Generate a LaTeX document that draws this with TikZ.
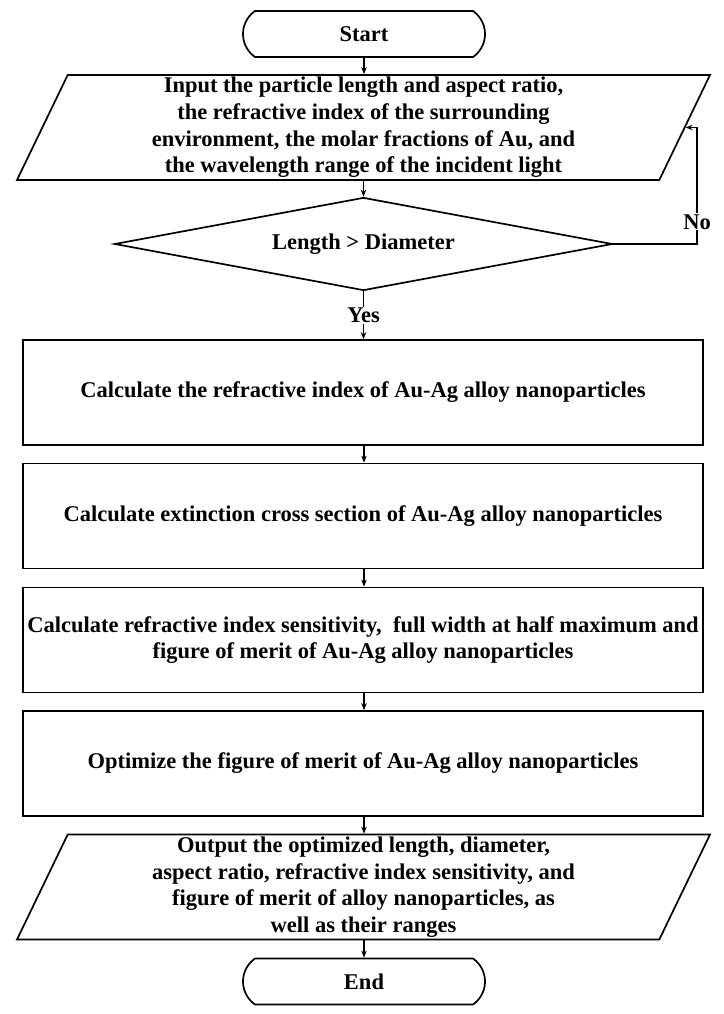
\documentclass[tikz,border=0pt]{standalone}
\usepackage{fontspec}
\setmainfont{Liberation Serif}
\usetikzlibrary{shapes.geometric,shapes.misc,arrows.meta}
\begin{document}
\begin{tikzpicture}[x=1pt,y=-1pt,
  every node/.style={font=\fontsize{22.5}{26.6}\selectfont\bfseries},
  shp/.style={draw, line width=1.7pt, inner sep=0pt, align=center},
  term/.style={shp, rounded rectangle, rounded rectangle arc length=110, minimum width=242pt, minimum height=46pt},
  io/.style={shp, trapezium, trapezium left angle=63.2, trapezium right angle=116.8, trapezium stretches body=true, minimum width=693pt, minimum height=105pt},
  proc/.style={shp, rectangle, minimum width=680pt, minimum height=105pt},
  decision/.style={shp, diamond, aspect=5.355, minimum width=498pt, minimum height=93pt},
  arr/.style={-{Stealth[length=7pt,width=5.5pt]}, line width=1.4pt},
  lbl/.style={fill=white, inner sep=1pt}
]
\useasboundingbox (0,0) rectangle (723,1014);

\node[term] (start) at (364,34) {Start};
\node[io] (inp) at (363.5,127.5) {Input the particle length and aspect ratio,\\the refractive index of the surrounding\\environment, the molar fractions of Au, and\\the wavelength range of the incident light};
\node[decision] (dec) at (363.5,244) {Length > Diameter};
\node[proc] (b1) at (363,392.5) {Calculate the refractive index of Au-Ag alloy nanoparticles};
\node[proc] (b2) at (363,516) {Calculate extinction cross section of Au-Ag alloy nanoparticles};
\node[proc] (b3) at (363,640) {Calculate refractive index sensitivity, \ full width at half maximum and\\figure of merit of Au-Ag alloy nanoparticles};
\node[proc] (b4) at (363,763.5) {Optimize the figure of merit of Au-Ag alloy nanoparticles};
\node[io] (out) at (363.5,887) {Output the optimized length, diameter,\\aspect ratio, refractive index sensitivity, and\\figure of merit of alloy nanoparticles, as\\well as their ranges};
\node[term] (end) at (364,981.5) {End};

\coordinate (noc) at (697,244);

\draw[arr] (start.south) -- (start.south |- inp.north);
\draw[arr] (inp.south -| dec.north) -- (dec.north);
\draw[arr] (dec.south) -- node[lbl]{Yes} (b1.north -| dec.south);
\draw[arr] (dec.east) -- (noc) -- node[lbl, pos=0.19]{No} (noc |- inp.east) -- (inp.east);
\draw[arr] (b1.south -| start.south) -- (b2.north -| start.south);
\draw[arr] (b2.south -| start.south) -- (b3.north -| start.south);
\draw[arr] (b3.south -| start.south) -- (b4.north -| start.south);
\draw[arr] (b4.south -| start.south) -- (out.north -| start.south);
\draw[arr] (out.south -| start.south) -- (end.north);
\end{tikzpicture}
\end{document}
